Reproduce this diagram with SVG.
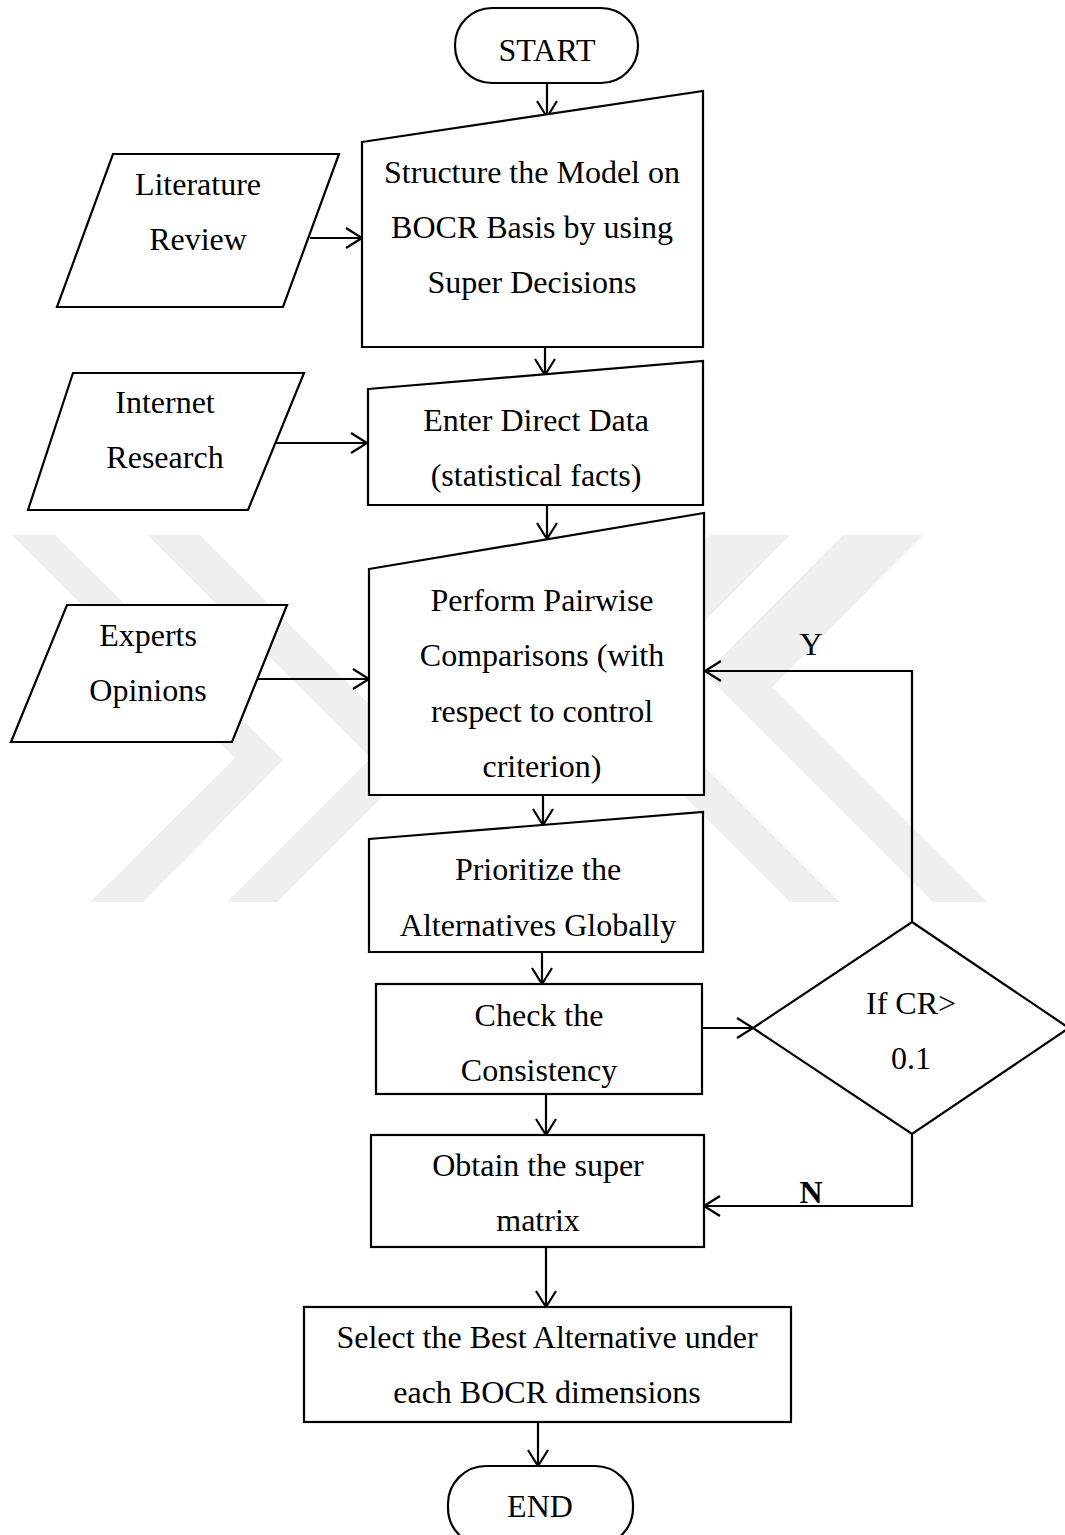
<svg xmlns="http://www.w3.org/2000/svg" width="1065" height="1535" viewBox="0 0 1065 1535">
<style>
.shape{fill:#ffffff;stroke:#000000;stroke-width:2.2;}
.lbl{font-family:"Liberation Serif","Times New Roman",serif;font-size:32px;fill:#000000;text-anchor:middle;}
.bold{font-weight:bold;}
.wm{fill:#efefef;stroke:none;}
.conn{fill:none;stroke:#000000;stroke-width:2.2;}
</style>
<defs>
<marker id="arr" markerUnits="userSpaceOnUse" markerWidth="22" markerHeight="24" viewBox="0 0 22 24" refX="19" refY="12" orient="auto">
<path d="M3,2 L19,12 L3,22" fill="none" stroke="#000000" stroke-width="2.2"/>
</marker>
</defs>
<rect x="0" y="0" width="1065" height="1535" fill="#ffffff"/>
<g id="watermark">
<polygon class="wm" points="12,535 55,535 283,760 143,902 90,902 235,758"/>
<polygon class="wm" points="147,535 200,535 422,757 277,902 227,902 371,758"/>
<polygon class="wm" points="710,535 790,535 632,694 840,902 790,902 567,679"/>
<polygon class="wm" points="843,535 923,535 772,687 987,902 933,902 705,674"/>
</g>
<g id="connectors">
<line class="conn" x1="547" y1="83" x2="547" y2="117" marker-end="url(#arr)"/>
<line class="conn" x1="310" y1="238" x2="362" y2="238" marker-end="url(#arr)"/>
<line class="conn" x1="545" y1="347" x2="545" y2="375" marker-end="url(#arr)"/>
<line class="conn" x1="275" y1="443" x2="367" y2="443" marker-end="url(#arr)"/>
<line class="conn" x1="547" y1="506" x2="547" y2="539" marker-end="url(#arr)"/>
<line class="conn" x1="258" y1="679" x2="369" y2="679" marker-end="url(#arr)"/>
<line class="conn" x1="543" y1="795" x2="543" y2="825" marker-end="url(#arr)"/>
<line class="conn" x1="542" y1="952" x2="542" y2="984" marker-end="url(#arr)"/>
<line class="conn" x1="702" y1="1028" x2="753" y2="1028" marker-end="url(#arr)"/>
<line class="conn" x1="546" y1="1094" x2="546" y2="1135" marker-end="url(#arr)"/>
<polyline class="conn" points="912,922 912,671 705,671" marker-end="url(#arr)"/>
<polyline class="conn" points="912,1134 912,1206 704,1206" marker-end="url(#arr)"/>
<line class="conn" x1="546" y1="1247" x2="546" y2="1307" marker-end="url(#arr)"/>
<line class="conn" x1="538" y1="1422" x2="538" y2="1466" marker-end="url(#arr)"/>
<text class="lbl" x="811" y="655">Y</text>
<text class="lbl bold" x="811" y="1203">N</text>
</g>
<g id="start">
<rect class="shape" x="455" y="8" width="183" height="75" rx="37" ry="37"/>
<text class="lbl" x="547" y="61">START</text>
</g>
<g id="literature">
<polygon class="shape" points="113,154 339,154 283,307 57,307"/>
<text class="lbl" x="198" y="195">Literature</text>
<text class="lbl" x="198" y="250">Review</text>
</g>
<g id="structure">
<polygon class="shape" points="362,142 703,91 703,347 362,347"/>
<text class="lbl" x="532" y="183">Structure the Model on</text>
<text class="lbl" x="532" y="238">BOCR Basis by using</text>
<text class="lbl" x="532" y="293">Super Decisions</text>
</g>
<g id="internet">
<polygon class="shape" points="73,373 304,373 248,510 28,510"/>
<text class="lbl" x="165" y="413">Internet</text>
<text class="lbl" x="165" y="468">Research</text>
</g>
<g id="enter">
<polygon class="shape" points="368,389 703,361 703,505 368,505"/>
<text class="lbl" x="536" y="431">Enter Direct Data</text>
<text class="lbl" x="536" y="486">(statistical facts)</text>
</g>
<g id="experts">
<polygon class="shape" points="67,605 287,605 232,742 11,742"/>
<text class="lbl" x="148" y="646">Experts</text>
<text class="lbl" x="148" y="701">Opinions</text>
</g>
<g id="perform">
<polygon class="shape" points="369,569 704,513 704,795 369,795"/>
<text class="lbl" x="542" y="611">Perform Pairwise</text>
<text class="lbl" x="542" y="666">Comparisons (with</text>
<text class="lbl" x="542" y="722">respect to control</text>
<text class="lbl" x="542" y="777">criterion)</text>
</g>
<g id="prioritize">
<polygon class="shape" points="369,839 703,812 703,952 369,952"/>
<text class="lbl" x="538" y="880">Prioritize the</text>
<text class="lbl" x="538" y="936">Alternatives Globally</text>
</g>
<g id="check">
<rect class="shape" x="376" y="984" width="326" height="110"/>
<text class="lbl" x="539" y="1026">Check the</text>
<text class="lbl" x="539" y="1081">Consistency</text>
</g>
<g id="decision">
<polygon class="shape" points="912,922 1069,1028 912,1134 753,1028"/>
<text class="lbl" x="911" y="1014">If CR&gt;</text>
<text class="lbl" x="911" y="1069">0.1</text>
</g>
<g id="obtain">
<rect class="shape" x="371" y="1135" width="333" height="112"/>
<text class="lbl" x="538" y="1176">Obtain the super</text>
<text class="lbl" x="538" y="1231">matrix</text>
</g>
<g id="select">
<rect class="shape" x="304" y="1307" width="487" height="115"/>
<text class="lbl" x="547" y="1348">Select the Best Alternative under</text>
<text class="lbl" x="547" y="1403">each BOCR dimensions</text>
</g>
<g id="end">
<rect class="shape" x="448" y="1466" width="185" height="80" rx="38" ry="38"/>
<text class="lbl" x="540" y="1517">END</text>
</g>
</svg>
